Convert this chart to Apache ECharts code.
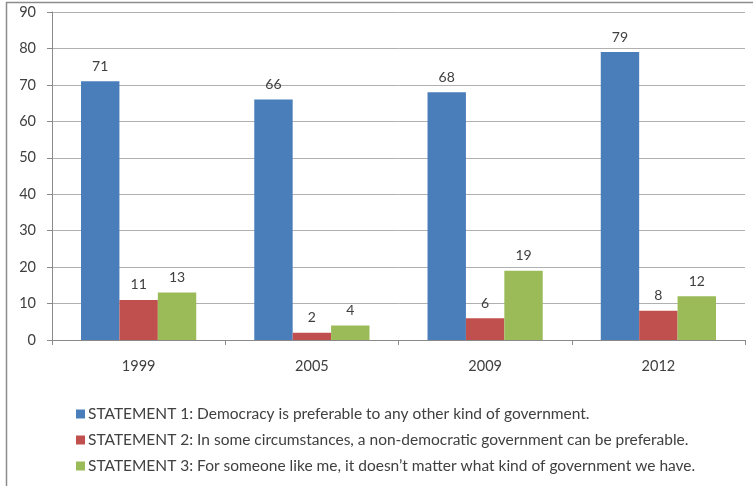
<!DOCTYPE html>
<html>
<head>
<meta charset="utf-8">
<script src="https://cdn.jsdelivr.net/npm/echarts@6/dist/echarts.min.js"></script>
<style>
html,body{margin:0;padding:0;background:#fff;}
#chart{width:753px;height:486px;}
</style>
</head>
<body>
<div id="chart"></div>
<script>
// Survey years and the share agreeing with each statement
const years = ['1999', '2005', '2009', '2012'];
const statement1 = [71, 66, 68, 79];
const statement2 = [11, 2, 6, 8];
const statement3 = [13, 4, 19, 12];
const seriesNames = [
  'STATEMENT 1: Democracy is preferable to any other kind of government.',
  'STATEMENT 2: In some circumstances, a non-democratic government can be preferable.',
  'STATEMENT 3: For someone like me, it doesn\u2019t matter what kind of government we have.'
];
const yTicks = [0, 10, 20, 30, 40, 50, 60, 70, 80, 90];

const colors = ['#4A7EBB', '#C0504D', '#9BBB59'];
const font = 'Lato, "Open Sans", sans-serif';
const textColor = '#404040';

const chart = echarts.init(document.getElementById('chart'), null, {renderer: 'canvas'});

function barSeries(name, data, color) {
  return {
    name: name,
    type: 'bar',
    data: data,
    barGap: '0%',
    barCategoryGap: '33.5%',
    itemStyle: {color: color},
    label: {
      show: true,
      position: 'top',
      distance: 8,
      color: textColor,
      fontFamily: font,
      fontSize: 14
    }
  };
}

chart.setOption({
  animation: false,
  color: colors,
  grid: {left: 52, right: 8, top: 12, bottom: 146, containLabel: false},
  // frame: top edge and left edge
  graphic: [{
    type: 'polyline',
    shape: {points: [[6.5, 490], [6.5, 2.5], [753, 2.5]]},
    style: {fill: 'none', stroke: '#8c8c8c', lineWidth: 1.5},
    silent: true
  }],
  legend: {
    orient: 'vertical',
    left: 71,
    top: 401,
    itemWidth: 9,
    itemHeight: 9,
    itemGap: 10,
    icon: 'rect',
    textStyle: {color: textColor, fontFamily: font, fontSize: 15.5, padding: [0, 0, 0, -2]},
    data: seriesNames
  },
  xAxis: {
    type: 'category',
    data: years,
    axisLine: {lineStyle: {color: '#8a8a8a', width: 1}},
    axisTick: {show: true, length: 5, lineStyle: {color: '#8a8a8a'}},
    axisLabel: {color: textColor, fontFamily: font, fontSize: 14.5, margin: 19}
  },
  yAxis: {
    type: 'value',
    min: yTicks[0],
    max: yTicks[yTicks.length - 1],
    interval: 10,
    axisLine: {show: true, lineStyle: {color: '#8a8a8a', width: 1}},
    axisTick: {show: true, length: 5, lineStyle: {color: '#8a8a8a'}},
    axisLabel: {color: textColor, fontFamily: font, fontSize: 14.5, margin: 16},
    splitLine: {lineStyle: {color: '#b0b0b0', width: 1}}
  },
  series: [
    barSeries(seriesNames[0], statement1, colors[0]),
    barSeries(seriesNames[1], statement2, colors[1]),
    barSeries(seriesNames[2], statement3, colors[2])
  ]
});
</script>
</body>
</html>
